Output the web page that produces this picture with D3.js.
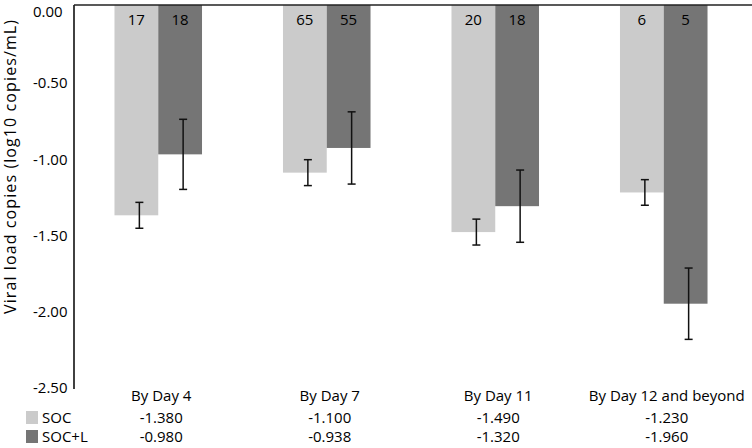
<!DOCTYPE html>
<html>
<head>
<meta charset="utf-8">
<script src="https://cdn.jsdelivr.net/npm/d3@7/dist/d3.min.js"></script>
<style>
  html, body { margin: 0; padding: 0; background: #fff; }
  svg { display: block; }
  text { font-family: "Open Sans", "DejaVu Sans", sans-serif; fill: #000; }
</style>
</head>
<body>
<svg id="chart" width="752" height="448"></svg>
<script>
// ---- data ----
const categories = ["By Day 4", "By Day 7", "By Day 11", "By Day 12 and beyond"];
const seriesNames = ["SOC", "SOC+L"];
const socValues = [-1.380, -1.100, -1.490, -1.230];
const soclValues = [-0.980, -0.938, -1.320, -1.960];
const socErrors = [0.085, 0.085, 0.085, 0.084];
const soclErrors = [0.23, 0.237, 0.237, 0.234];
const socCounts = [17, 65, 20, 6];
const soclCounts = [18, 55, 18, 5];
const yTicks = [0, -0.5, -1.0, -1.5, -2.0, -2.5];
const yTitle = "Viral load copies (log10 copies/mL)";

// ---- style / layout ----
const colors = { "SOC": "#cbcbcb", "SOC+L": "#757575" };
const W = 752, H = 448;
const mLeft = 74, mRight = 748, mTop = 5, mBottom = 386;
const fs = 15;
const loc = d3.formatLocale({ decimal: ".", thousands: ",", grouping: [3], currency: ["", ""], minus: "-" });

const svg = d3.select("#chart");

const x0 = d3.scaleBand().domain(categories).range([mLeft, mRight]).padding(0);
const x1 = d3.scaleBand().domain(seriesNames).range([0, x0.bandwidth()]).paddingInner(0).paddingOuter(0.925);
const y = d3.scaleLinear().domain([-2.5, 0]).range([mBottom, mTop]);

const rows = categories.map((c, i) => ({
  cat: c,
  vals: [
    { s: "SOC", v: socValues[i], e: socErrors[i], n: socCounts[i] },
    { s: "SOC+L", v: soclValues[i], e: soclErrors[i], n: soclCounts[i] }
  ]
}));

// bars
const g = svg.append("g");
const groups = g.selectAll("g.grp").data(rows).enter().append("g")
  .attr("transform", d => `translate(${x0(d.cat)},0)`);

groups.selectAll("rect").data(d => d.vals).enter().append("rect")
  .attr("x", d => x1(d.s))
  .attr("y", y(0))
  .attr("width", x1.bandwidth())
  .attr("height", d => y(d.v) - y(0))
  .attr("fill", d => colors[d.s]);

// error bars
const errOff = 3;
const eb = groups.selectAll("g.err").data(d => d.vals).enter().append("g");
eb.append("line")
  .attr("x1", d => x1(d.s) + x1.bandwidth() / 2 + errOff)
  .attr("x2", d => x1(d.s) + x1.bandwidth() / 2 + errOff)
  .attr("y1", d => y(d.v + d.e)).attr("y2", d => y(d.v - d.e))
  .attr("stroke", "#111").attr("stroke-width", 1.5);
[1, -1].forEach(sign => {
  eb.append("line")
    .attr("x1", d => x1(d.s) + x1.bandwidth() / 2 + errOff - 4)
    .attr("x2", d => x1(d.s) + x1.bandwidth() / 2 + errOff + 4)
    .attr("y1", d => y(d.v + sign * d.e)).attr("y2", d => y(d.v + sign * d.e))
    .attr("stroke", "#111").attr("stroke-width", 1.5);
});

// counts
groups.selectAll("text.cnt").data(d => d.vals).enter().append("text")
  .attr("x", d => x1(d.s) + x1.bandwidth() / 2)
  .attr("y", 25)
  .attr("text-anchor", "middle")
  .attr("font-size", fs)
  .text(d => d.n);

// y axis
const yAxis = d3.axisLeft(y).tickValues(yTicks).tickFormat(loc.format(".2f")).tickSize(0).tickPadding(0);
const ya = svg.append("g").attr("transform", `translate(${mLeft},0)`).call(yAxis);
ya.select(".domain").remove();
ya.selectAll(".tick text")
  .attr("x", -41).attr("dy", "0.45em")
  .attr("text-anchor", "start")
  .attr("font-size", fs)
  .attr("font-family", "'Open Sans', sans-serif")
  .attr("fill", "#000");
ya.selectAll(".tick").filter(d => d === 0).select("text").attr("dy", "0.75em");

// axis lines
svg.append("line").attr("x1", mLeft).attr("x2", mLeft).attr("y1", mTop).attr("y2", mBottom + 3)
  .attr("stroke", "#111").attr("stroke-width", 1.6);
svg.append("line").attr("x1", mLeft).attr("x2", W).attr("y1", mTop).attr("y2", mTop)
  .attr("stroke", "#222").attr("stroke-width", 1.6);

// y title
svg.append("text")
  .attr("transform", `translate(16,167) rotate(-90)`)
  .attr("text-anchor", "middle")
  .attr("font-size", 16)
  .attr("textLength", 294)
  .attr("lengthAdjust", "spacing")
  .text(yTitle);

// category labels
const textOff = 3;
svg.selectAll("text.cat").data(categories).enter().append("text")
  .attr("x", d => x0(d) + x0.bandwidth() / 2 + textOff)
  .attr("y", 401)
  .attr("text-anchor", "middle")
  .attr("font-size", fs)
  .text(d => d);

// data table
const tableRows = [
  { s: "SOC", vals: socValues, yb: 423 },
  { s: "SOC+L", vals: soclValues, yb: 442 }
];
tableRows.forEach(r => {
  svg.append("rect").attr("x", 26).attr("y", r.yb - 12).attr("width", 12).attr("height", 13)
    .attr("fill", colors[r.s]);
  svg.append("text").attr("x", 42).attr("y", r.yb).attr("font-size", fs).text(r.s);
  svg.selectAll(null).data(categories).enter().append("text")
    .attr("x", d => x0(d) + x0.bandwidth() / 2 + textOff)
    .attr("y", r.yb)
    .attr("text-anchor", "middle")
    .attr("font-size", fs)
    .text((d, i) => loc.format(".3f")(r.vals[i]));
});
</script>
</body>
</html>
